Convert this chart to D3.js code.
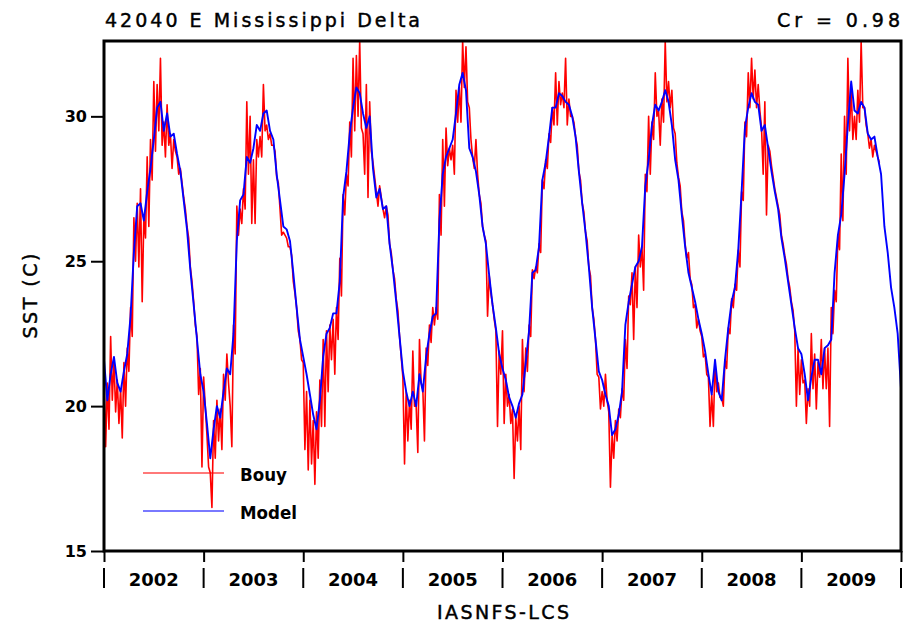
<!DOCTYPE html>
<html>
<head>
<meta charset="utf-8">
<script src="https://cdn.jsdelivr.net/npm/d3@7"></script>
<style>
  body { margin: 0; background: #fff; }
  text { font-family: "DejaVu Sans", sans-serif; fill: #000; }
  .heavy { stroke: #000; stroke-width: 0.45px; }
</style>
</head>
<body>
<script>
//chart data
const startYear = 2002;
const years = [2002, 2003, 2004, 2005, 2006, 2007, 2008, 2009];
const yTicks = [15, 20, 25, 30];
const seriesNames = ["Bouy", "Model"];

//model SST, one value every 1/30 year
const model = [
  21.6,20.2,21.1,21.7,20.8,20.5,21.2,21.8,23.1,25.3,26.9,27.0,26.4,27.4,28.2,29.2,30.3,30.5,29.5,30.1,29.3,29.4,28.7,28.1,27.1,26.1,24.7,23.5,22.3,21.1,
  20.5,19.4,18.2,19.2,20.0,19.6,20.5,21.3,21.1,22.5,25.7,27.1,27.3,28.6,28.4,28.9,29.7,29.5,30.1,30.2,29.5,29.2,28.0,27.1,26.2,26.1,25.7,24.6,23.4,22.3,
  21.7,21.1,20.4,19.7,19.2,20.2,21.7,22.5,22.7,23.2,23.2,24.3,27.2,28.1,29.4,30.3,31.0,30.8,30.1,29.6,30.0,28.2,27.2,27.5,26.8,26.9,25.6,24.7,23.6,22.4,
  21.2,20.5,20.0,20.5,20.0,21.1,20.5,21.7,22.5,23.1,23.2,26.4,28.0,28.6,28.9,29.2,30.1,31.1,31.5,30.9,28.9,28.6,28.1,27.3,26.2,25.6,24.5,23.5,22.7,21.8,
  21.3,20.9,20.3,20.0,19.6,20.1,20.4,21.5,22.6,24.6,24.7,25.5,27.8,28.4,29.3,30.3,30.3,30.8,30.7,30.5,30.4,30.0,29.3,28.1,27.0,26.0,24.8,23.4,22.3,21.2,
  20.9,20.4,20.0,19.0,19.2,19.7,20.5,22.8,23.6,24.2,24.8,25.0,25.5,27.6,28.5,29.7,30.4,30.2,30.5,30.9,30.5,29.7,28.5,27.8,26.6,25.5,24.6,24.1,23.6,23.0,
  22.5,21.9,21.1,20.4,21.6,20.5,20.2,21.6,22.7,23.6,24.1,25.4,27.4,29.6,30.3,30.8,30.5,30.4,29.5,29.7,28.9,28.1,27.4,26.8,25.8,25.1,24.3,23.5,22.7,22.0,
  21.8,21.1,20.2,21.0,21.6,21.6,21.1,22.0,22.1,22.3,24.6,25.9,26.6,28.0,29.7,31.2,30.2,30.1,30.5,30.3,29.4,29.2,29.3,28.6,28.0,26.2,25.3,24.1,23.4,22.5,
  20.6
];

//buoy SST, one value every 1/60 year
const bouy = [
  21.0,18.6,20.8,19.2,22.4,20.2,21.6,19.8,20.9,19.4,20.6,18.9,21.5,20.0,22.0,21.2,23.4,22.4,26.5,25.0,27.0,24.8,27.5,23.6,26.5,25.8,28.6,26.2,29.2,27.8,
  31.2,28.8,31.1,29.5,32.0,29.0,29.8,28.6,30.4,29.0,29.4,28.2,29.2,28.8,28.6,28.0,28.2,27.7,27.2,26.8,26.2,25.8,24.8,24.3,23.6,22.8,22.4,20.4,21.3,17.9,
  21.0,20.0,19.0,17.9,17.7,16.5,19.5,18.2,20.2,18.8,19.9,18.5,21.1,20.2,21.8,20.8,20.0,18.6,22.8,21.8,26.9,25.9,26.8,26.3,27.5,26.8,30.5,28.0,30.0,26.3,
  28.5,26.3,29.2,28.6,29.3,28.6,31.1,29.5,29.7,29.2,29.4,29.0,29.0,28.8,27.9,27.7,26.8,25.9,26.0,25.9,25.8,25.5,25.5,25.2,24.3,23.9,23.4,22.6,22.3,21.6,
  21.5,18.5,20.5,17.8,20.2,18.0,19.5,17.3,19.8,18.2,20.9,19.3,22.3,19.3,22.6,20.5,22.8,21.6,23.0,21.1,23.4,22.3,25.1,23.8,27.3,26.6,28.0,27.6,29.8,28.6,
  32.0,29.5,32.1,30.0,32.6,29.6,29.4,28.0,31.1,27.2,30.5,28.8,28.4,27.9,27.4,26.9,27.6,27.2,26.8,26.5,26.9,26.6,25.6,25.3,24.7,24.4,23.7,23.3,22.4,21.7,
  21.0,18.0,20.5,18.8,20.2,19.2,21.9,20.0,20.0,18.4,22.3,20.8,20.6,18.8,22.0,21.4,22.8,22.2,23.4,22.8,23.4,23.0,27.3,25.9,29.2,26.9,29.6,28.3,28.9,28.5,
  29.0,28.0,30.9,29.8,31.0,29.8,32.6,31.0,32.4,30.5,30.3,29.2,28.6,28.2,29.2,28.0,27.3,27.0,26.2,25.9,25.7,23.1,24.5,23.9,23.5,23.0,22.6,19.3,21.9,21.1,
  22.6,19.4,21.1,20.0,20.4,19.4,19.9,17.5,19.6,18.8,20.0,18.5,22.3,20.5,22.0,21.2,22.8,22.4,24.7,24.4,24.8,24.6,25.6,25.3,27.8,27.5,28.5,28.2,29.4,29.1,
  30.3,29.7,31.5,29.7,31.2,30.4,30.8,30.3,32.0,29.7,30.6,30.0,30.0,29.8,29.3,29.0,28.1,27.8,27.0,26.7,26.0,25.7,24.8,24.5,23.4,23.0,22.3,21.1,21.0,19.9,
  20.5,20.0,21.1,20.2,19.8,17.2,19.0,18.2,19.5,18.8,19.9,19.6,20.6,20.2,22.3,21.3,23.8,23.5,24.6,22.3,24.8,23.4,25.9,24.8,25.5,24.0,28.0,27.4,30.0,28.0,
  29.8,29.2,31.5,30.0,30.2,29.0,30.6,29.8,32.6,30.5,31.2,30.3,30.9,29.6,29.4,28.4,27.9,27.6,26.7,26.4,25.6,25.1,25.3,24.4,24.2,23.4,23.5,22.7,23.0,22.6,
  22.4,21.7,21.8,21.1,21.0,19.3,20.4,19.3,21.5,20.5,20.8,20.3,20.3,20.0,21.6,21.3,22.7,22.5,23.7,23.4,24.2,24.0,25.4,24.8,27.4,27.1,29.8,29.3,31.5,30.3,
  32.0,30.6,31.6,30.3,31.1,30.2,29.6,28.0,30.5,26.6,29.0,28.8,28.3,27.9,27.5,27.2,26.9,26.6,25.9,25.6,25.2,24.9,24.4,24.1,23.6,23.3,22.6,20.0,22.0,20.4,
  21.6,20.8,20.9,19.4,20.6,20.0,22.5,20.6,21.8,19.9,21.5,21.0,22.3,20.6,22.0,20.6,22.0,19.3,23.4,22.5,24.0,23.6,25.9,25.4,28.7,26.4,30.0,28.0,32.0,29.5,
  31.0,29.2,30.0,29.2,30.9,29.8,32.6,30.3,30.3,29.7,29.4,28.9,29.2,28.6,29.0,28.8,28.6,28.4
];

//set the dimensions and margins of the graph
const margin = { top: 41, right: 13, bottom: 73, left: 104 },
  width = 914 - margin.left - margin.right,
  height = 624 - margin.top - margin.bottom;

const root = d3
  .select("body")
  .append("svg")
  .attr("width", 914)
  .attr("height", 624);

const svg = root
  .append("g")
  .attr("transform", `translate(${margin.left},${margin.top})`);

const x = d3.scaleLinear().domain([startYear, startYear + years.length]).range([0, width]);
const y = d3.scaleLinear().domain([15, 32.6]).range([height, 0]);

svg.append("clipPath").attr("id", "plot-clip")
  .append("rect").attr("width", width).attr("height", height);

//the two series
const line = d3.line().x((d) => x(d.t)).y((d) => y(d.v));
const bouyData = bouy.map((v, i) => ({ t: startYear + i / 60, v: v }));
const modelData = model.map((v, i) => ({ t: startYear + i / 30, v: v }));

const plot = svg.append("g").attr("clip-path", "url(#plot-clip)");
plot.append("path")
  .datum(bouyData)
  .attr("d", line)
  .attr("fill", "none")
  .attr("stroke", "#ff0000")
  .attr("stroke-width", 1.6)
  .attr("stroke-linejoin", "round");
plot.append("path")
  .datum(modelData)
  .attr("d", line)
  .attr("fill", "none")
  .attr("stroke", "#0000ff")
  .attr("stroke-width", 1.9)
  .attr("stroke-linejoin", "round");

//frame
svg.append("rect")
  .attr("width", width)
  .attr("height", height)
  .attr("fill", "none")
  .attr("stroke", "#000")
  .attr("stroke-width", 3);

//y axis
const yAxis = d3.axisLeft(y).tickValues(yTicks).tickSize(13).tickPadding(4);
const gy = svg.append("g").call(yAxis);
gy.select(".domain").remove();
gy.selectAll(".tick line").attr("stroke-width", 2);
gy.selectAll(".tick text")
  .style("font-family", "DejaVu Sans")
  .style("font-size", "16px")
  .style("font-weight", "bold");

//x axis: ticks at year boundaries, labels in the middle of each year
const bounds = years.concat([startYear + years.length]);
const xAxis = d3.axisBottom(x).tickValues(bounds).tickSize(11).tickFormat("");
const gx = svg.append("g").attr("transform", `translate(0,${height})`).call(xAxis);
gx.select(".domain").remove();
gx.selectAll(".tick line").attr("stroke-width", 2);

svg.append("g")
  .selectAll("line")
  .data(bounds)
  .enter()
  .append("line")
  .attr("x1", (d) => x(d))
  .attr("x2", (d) => x(d))
  .attr("y1", height + 17)
  .attr("y2", height + 37)
  .attr("stroke", "#000")
  .attr("stroke-width", 2);

svg.append("g")
  .selectAll("text")
  .data(years)
  .enter()
  .append("text")
  .attr("x", (d) => x(d + 0.5))
  .attr("y", height + 35)
  .attr("text-anchor", "middle")
  .attr("textLength", 50)
  .attr("lengthAdjust", "spacingAndGlyphs")
  .style("font-size", "18px")
  .style("font-weight", "bold")
  .text((d) => d);

//titles
root.append("text")
  .attr("class", "heavy")
  .attr("x", 105).attr("y", 27)
  .attr("textLength", 315).attr("lengthAdjust", "spacing")
  .style("font-size", "19px")
  .text("42040 E Mississippi Delta");

root.append("text")
  .attr("class", "heavy")
  .attr("x", 900).attr("y", 27)
  .attr("text-anchor", "end")
  .attr("textLength", 123).attr("lengthAdjust", "spacing")
  .style("font-size", "19px")
  .text("Cr = 0.98");

root.append("text")
  .attr("class", "heavy")
  .attr("x", 503).attr("y", 619)
  .attr("text-anchor", "middle")
  .attr("textLength", 132).attr("lengthAdjust", "spacing")
  .style("font-size", "19px")
  .text("IASNFS-LCS");

root.append("text")
  .attr("class", "heavy")
  .attr("transform", "translate(37,296) rotate(-90)")
  .attr("text-anchor", "middle")
  .attr("textLength", 85).attr("lengthAdjust", "spacing")
  .style("font-size", "19px")
  .text("SST (C)");

//legend
const legendColors = ["#ff0000", "#0000ff"];
const legendWidths = [47, 57];
const legend = root.append("g")
  .selectAll("g")
  .data(seriesNames)
  .enter()
  .append("g")
  .attr("transform", (d, i) => `translate(143,${473 + i * 38})`);
legend.append("line")
  .attr("x1", 0).attr("x2", 81)
  .attr("stroke", (d, i) => legendColors[i])
  .attr("stroke-opacity", 0.7)
  .attr("stroke-width", 1.6);
legend.append("text")
  .attr("x", 97).attr("y", 8)
  .attr("textLength", (d, i) => legendWidths[i])
  .attr("lengthAdjust", "spacingAndGlyphs")
  .style("font-size", "17px")
  .style("font-weight", "bold")
  .text((d) => d);
</script>
</body>
</html>
